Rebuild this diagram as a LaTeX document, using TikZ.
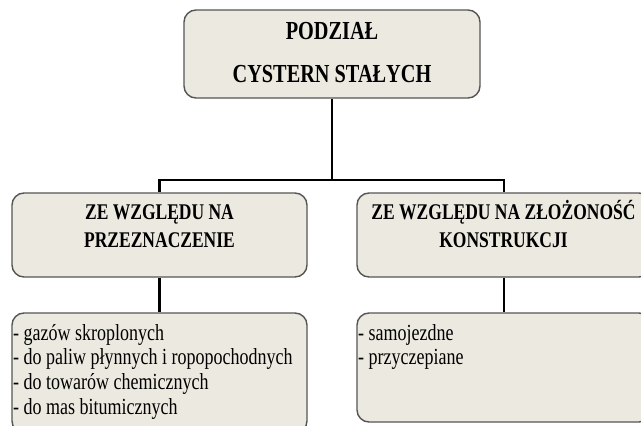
\documentclass[tikz,border=0pt]{standalone}
\usepackage{fontspec}
\setmainfont{Liberation Serif}
\definecolor{boxfill}{RGB}{236,234,224}
\definecolor{boxline}{RGB}{85,85,85}
\newcommand{\vstretch}[1]{\scalebox{1}[1.28]{#1}}
\begin{document}
\begin{tikzpicture}[x=1pt,y=-1pt,
  box/.style={draw=boxline, line width=1.4pt, fill=boxfill, rounded corners=12pt, inner sep=0pt},
  conn/.style={line width=2.6pt, draw=black},
  label/.style={inner sep=0pt, text=black},
  ]
\useasboundingbox (0,0) rectangle (641,426);
% boxes
\node[box, minimum width=296pt, minimum height=88pt] (top) at (332,54) {};
\node[box, minimum width=295pt, minimum height=84pt] (lmid) at (159.5,235) {};
\node[box, minimum width=294pt, minimum height=84pt] (rmid) at (504,235) {};
\node[box, minimum width=295pt, minimum height=120pt] (lbot) at (159.5,373) {};
\node[box, minimum width=294pt, minimum height=109pt] (rbot) at (504,367.5) {};
% connectors
\coordinate (j) at (332,180);
\draw[conn] (top.south) -- (j);
\draw[conn] (lmid.north) |- (j) -| (rmid.north);
\draw[conn] (lmid.south) -- (lbot.north);
\draw[conn] (rmid.south) -- (rbot.north);
% texts
\node[label, anchor=base] (ttop) at (332,39) {\vstretch{\bfseries\fontsize{20.3}{33.6}\selectfont\begin{tabular}[t]{@{}c@{}}PODZIAŁ\\CYSTERN STAŁYCH\end{tabular}}};
\node[label, anchor=base] (tlmid) at (159.5,219) {\vstretch{\bfseries\fontsize{17.5}{21.9}\selectfont\begin{tabular}[t]{@{}c@{}}ZE WZGLĘDU NA\\PRZEZNACZENIE\end{tabular}}};
\node[label, anchor=base] (trmid) at (503.5,219) {\vstretch{\bfseries\fontsize{17.5}{21.9}\selectfont\begin{tabular}[t]{@{}c@{}}ZE WZGLĘDU NA ZŁOŻONOŚĆ\\KONSTRUKCJI\end{tabular}}};
\node[label, anchor=base west] (tlbot) at (13,340) {\vstretch{\fontsize{18}{19.5}\selectfont\begin{tabular}[t]{@{}l@{}}- gazów skroplonych\\- do paliw płynnych i ropopochodnych\\- do towarów chemicznych\\- do mas bitumicznych\end{tabular}}};
\node[label, anchor=base west] (trbot) at (358,340) {\vstretch{\fontsize{18}{19.5}\selectfont\begin{tabular}[t]{@{}l@{}}- samojezdne\\- przyczepiane\end{tabular}}};
\end{tikzpicture}
\end{document}
